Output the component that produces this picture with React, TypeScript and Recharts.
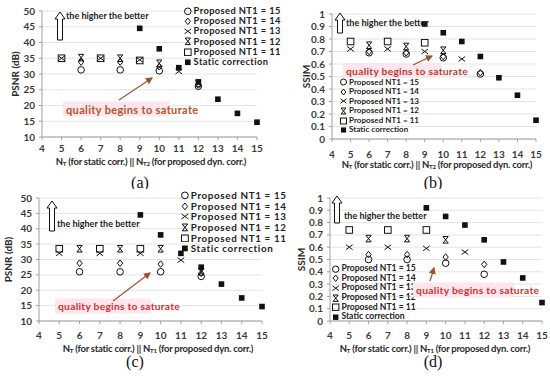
import React from 'react'
import { ScatterChart, Scatter, XAxis, YAxis, CartesianGrid } from 'recharts'

// x positions (N_T / N_T1 / N_T2)
const nValues = [5, 6, 7, 8, 9, 10, 11, 12, 13, 14, 15]
const xTicks = [4, 5, 6, 7, 8, 9, 10, 11, 12, 13, 14, 15]
const psnrTicks = [10, 15, 20, 25, 30, 35, 40, 45, 50]
const ssimTicks = [0, 0.1, 0.2, 0.3, 0.4, 0.5, 0.6, 0.7, 0.8, 0.9, 1]
const legendLabels = [
  'Proposed NT1 = 15',
  'Proposed NT1 = 14',
  'Proposed NT1 = 13',
  'Proposed NT1 = 12',
  'Proposed NT1 = 11',
  'Static correction',
]

// (a) PSNR vs N_T2
const psnrA15 = [null, 31.3, null, 31.3, null, 31, null, 26.1, null, null, null]
const psnrA14 = [null, 33.8, null, 33.8, null, 32.3, null, 26.5, null, null, null]
const psnrA13 = [35, null, 35, null, 34.5, null, 30.8, null, null, null, null]
const psnrA12 = [null, 35.2, null, 35, null, 33.4, null, 27, null, null, null]
const psnrA11 = [35, null, 35, null, 34.3, null, null, null, null, null, null]
const psnrAStatic = [null, null, null, null, 44.5, 38, 32, 27.5, 22, 17.5, 14.7]

// (b) SSIM vs N_T2
const ssimB15 = [null, 0.69, null, 0.68, null, 0.65, null, 0.52, null, null, null]
const ssimB14 = [null, 0.7, null, 0.69, null, 0.66, null, 0.53, null, null, null]
const ssimB13 = [0.72, null, 0.72, null, 0.7, null, 0.64, null, null, null, null]
const ssimB12 = [null, 0.75, null, 0.74, null, 0.71, null, null, null, null, null]
const ssimB11 = [0.78, null, 0.78, null, 0.77, null, null, null, null, null, null]
const ssimBStatic = [null, null, null, null, 0.92, 0.85, 0.78, 0.66, 0.49, 0.35, 0.15]

// (c) PSNR vs N_T1
const psnrC15 = [null, 26, null, 26, null, 26, null, 24.5, null, null, null]
const psnrC14 = [null, 28.8, null, 28.8, null, 28.5, null, 25.5, null, null, null]
const psnrC13 = [32, null, 32, null, 32, null, 29.8, null, null, null, null]
const psnrC12 = [null, 33.5, null, 33.5, null, 33.5, null, 26, null, null, null]
const psnrC11 = [33.5, null, 33.5, null, 33.5, null, null, null, null, null, null]
const psnrCStatic = [null, null, null, null, 44.5, 38, 32, 27.5, 22, 17.5, 14.7]

// (d) SSIM vs N_T1
const ssimD15 = [null, 0.5, null, 0.5, null, 0.47, null, 0.38, null, null, null]
const ssimD14 = [null, 0.54, null, 0.54, null, 0.52, null, 0.46, null, null, null]
const ssimD13 = [0.6, null, 0.6, null, 0.59, null, 0.56, null, null, null, null]
const ssimD12 = [null, 0.67, null, 0.67, null, 0.66, null, null, null, null, null]
const ssimD11 = [0.74, null, 0.74, null, 0.74, null, null, null, null, null, null]
const ssimDStatic = [null, null, null, null, 0.92, 0.85, 0.78, 0.66, 0.48, 0.35, 0.15]

type Kind = 'circle' | 'diamond' | 'cross' | 'hourglass' | 'square' | 'filled'
const kinds: Kind[] = ['circle', 'diamond', 'cross', 'hourglass', 'square', 'filled']

const FONT = 'Lato, "Open Sans", sans-serif'
const INK = '#111'

const toPoints = (ys: (number | null)[]) =>
  nValues.map((x, i) => ({ x, y: ys[i] })).filter((p) => p.y !== null)

function Marker({ kind, cx, cy, s = 3.3 }: { kind: Kind; cx: number; cy: number; s?: number }) {
  const st = { fill: 'none', stroke: INK, strokeWidth: 1 }
  switch (kind) {
    case 'circle':
      return <circle cx={cx} cy={cy} r={s} {...st} />
    case 'diamond':
      return (
        <polygon
          points={`${cx},${cy - s} ${cx + s * 0.8},${cy} ${cx},${cy + s} ${cx - s * 0.8},${cy}`}
          {...st}
        />
      )
    case 'cross':
      return (
        <path
          d={`M${cx - s},${cy - s * 0.75}L${cx + s},${cy + s * 0.75}M${cx + s},${cy - s * 0.75}L${cx - s},${cy + s * 0.75}`}
          {...st}
        />
      )
    case 'hourglass':
      return (
        <path
          d={`M${cx - s * 0.8},${cy - s}L${cx + s * 0.8},${cy + s}M${cx + s * 0.8},${cy - s}L${cx - s * 0.8},${cy + s}M${cx - s * 0.8},${cy - s}H${cx + s * 0.8}M${cx - s * 0.8},${cy + s}H${cx + s * 0.8}`}
          {...st}
        />
      )
    case 'square':
      return <rect x={cx - s} y={cy - s} width={s * 2} height={s * 2} {...st} />
    default:
      return <rect x={cx - s * 0.85} y={cy - s * 0.85} width={s * 1.7} height={s * 1.7} fill={INK} />
  }
}

type PanelProps = {
  left: number
  top: number
  plot: { l: number; r: number; t: number; b: number }
  yDomain: [number, number]
  yTicks: number[]
  yTitle: string
  yTitleX: number
  series: (number | null)[][]
  legend: { x: number; y: number; step: number; fs: number; ls: number; ms: number }
  sub: string
  xTitleX: number
  tickDy: number
  titleDy: number
  better: { x: number; t: number; b: number; tx: number; ty: number }
  sat: {
    x1: number
    y1: number
    x2: number
    y2: number
    tx: number
    ty: number
    w: number
    fs: number
    ls: number
    color: string
  }
  caption: string
  captionX: number
  captionY: number
}

function Panel(p: PanelProps) {
  const H = 189
  const fmt = (v: number) => String(Math.round(v * 10) / 10)
  const a = p.better
  const s = p.sat
  const lg = p.legend
  const tickStyle = { fontSize: 10, fontWeight: 700, fill: '#3a3a3a', fontFamily: FONT }
  return (
    <div style={{ position: 'absolute', left: p.left, top: p.top, width: 275, height: H }}>
      <ScatterChart
        width={275}
        height={H}
        margin={{ top: p.plot.t, right: 275 - p.plot.r, left: 0, bottom: 0 }}
      >
        <CartesianGrid vertical={false} stroke="#e4e4e4" />
        <XAxis
          type="number"
          dataKey="x"
          domain={[4, 15]}
          ticks={xTicks}
          interval={0}
          height={H - p.plot.b}
          axisLine={{ stroke: '#a0a0a0' }}
          tickLine={{ stroke: '#a0a0a0' }}
          tickSize={3}
          tickMargin={p.tickDy}
          tick={tickStyle}
        />
        <YAxis
          type="number"
          dataKey="y"
          domain={p.yDomain}
          ticks={p.yTicks}
          interval={0}
          width={p.plot.l}
          tickFormatter={fmt}
          axisLine={{ stroke: '#a0a0a0' }}
          tickLine={{ stroke: '#a0a0a0' }}
          tickSize={3}
          tickMargin={4}
          tick={tickStyle}
        />
        {p.series.map((ys, i) => (
          <Scatter
            key={legendLabels[i]}
            name={legendLabels[i]}
            data={toPoints(ys)}
            isAnimationActive={false}
            shape={(props: any) => <Marker kind={kinds[i]} cx={props.cx} cy={props.cy} />}
          />
        ))}
      </ScatterChart>
      <div
        style={{
          position: 'absolute',
          left: lg.x,
          top: lg.y,
          fontFamily: FONT,
          fontSize: lg.fs,
          letterSpacing: lg.ls,
          fontWeight: 700,
          color: '#222',
        }}
      >
        {legendLabels.map((lab, i) => (
          <div key={lab} style={{ height: lg.step, display: 'flex', alignItems: 'center' }}>
            <svg width={lg.ms * 2 + 3} height={lg.ms * 2 + 2} style={{ marginRight: 1, flex: 'none' }}>
              <Marker kind={kinds[i]} cx={lg.ms + 1.5} cy={lg.ms + 1} s={lg.ms} />
            </svg>
            <span style={{ whiteSpace: 'nowrap', lineHeight: `${lg.step}px` }}>{lab}</span>
          </div>
        ))}
      </div>
      <svg
        width={275}
        height={H}
        style={{ position: 'absolute', left: 0, top: 0, pointerEvents: 'none' }}
        fontFamily={FONT}
      >
        <defs>
          <marker id={`ah${p.caption}`} markerWidth="6" markerHeight="6" refX="5" refY="3" orient="auto">
            <path d="M0,0 L6,3 L0,6 z" fill="#a0522d" />
          </marker>
        </defs>
        <polygon
          points={`${a.x},${a.t} ${a.x + 5},${a.t + 7} ${a.x + 2.5},${a.t + 7} ${a.x + 2.5},${a.b} ${a.x - 2.5},${a.b} ${a.x - 2.5},${a.t + 7} ${a.x - 5},${a.t + 7}`}
          fill="#fff"
          stroke={INK}
          strokeWidth={1}
        />
        <text x={a.tx} y={a.ty} fontSize={9} fontWeight={700} fill="#222" dominantBaseline="central">
          the higher the better
        </text>
        <rect x={s.tx - 3} y={s.ty - 7.5} width={s.w + 6} height={15} fill="#fde6ee" />
        <text
          x={s.tx}
          y={s.ty}
          fontSize={s.fs}
          letterSpacing={s.ls}
          fontWeight={700}
          fill={s.color}
          dominantBaseline="central"
        >
          quality begins to saturate
        </text>
        <line
          x1={s.x1}
          y1={s.y1}
          x2={s.x2}
          y2={s.y2}
          stroke="#a0522d"
          strokeWidth={1.2}
          markerEnd={`url(#ah${p.caption})`}
        />
        <text
          x={p.xTitleX}
          y={p.plot.b + p.titleDy}
          textAnchor="middle"
          fontSize={9.5}
          letterSpacing={-0.25}
          fontWeight={700}
          fill="#2a2a2a"
          dominantBaseline="central"
        >
          N<tspan fontSize={6} dy={2}>T</tspan>
          <tspan dy={-2}> (for static corr.) || N</tspan>
          <tspan fontSize={6} dy={2}>{p.sub}</tspan>
          <tspan dy={-2}> (for proposed dyn. corr.)</tspan>
        </text>
        <text
          x={p.yTitleX}
          y={(p.plot.t + p.plot.b) / 2}
          textAnchor="middle"
          fontSize={10}
          fontWeight={700}
          fill="#2a2a2a"
          dominantBaseline="central"
          transform={`rotate(-90 ${p.yTitleX} ${(p.plot.t + p.plot.b) / 2})`}
        >
          {p.yTitle}
        </text>
        <text
          x={p.captionX}
          y={p.captionY}
          textAnchor="middle"
          fontSize={16}
          fontFamily='"Liberation Serif", serif'
          fill="#111"
          dominantBaseline="central"
        >
          ({p.caption})
        </text>
      </svg>
    </div>
  )
}

export default function App() {
  return (
    <div
      style={{
        position: 'absolute',
        left: 0,
        top: 0,
        width: 550,
        height: 377,
        background: '#fff',
        overflow: 'hidden',
      }}
    >
      <Panel
        left={0}
        top={0}
        plot={{ l: 42, r: 257, t: 11, b: 137 }}
        yDomain={[10, 50]}
        yTicks={psnrTicks}
        yTitle="PSNR (dB)"
        yTitleX={15}
        series={[psnrA15, psnrA14, psnrA13, psnrA12, psnrA11, psnrAStatic]}
        legend={{ x: 183, y: 6, step: 10.2, fs: 9.3, ls: 0.4, ms: 3.3 }}
        sub="T2"
        xTitleX={151}
        tickDy={5}
        titleDy={24}
        better={{ x: 60, t: 12, b: 40, tx: 66, ty: 15 }}
        sat={{ x1: 119, y1: 100, x2: 152, y2: 78, tx: 66, ty: 109, w: 101, fs: 11, ls: 0.35, color: '#b5542a' }}
        caption="a"
        captionX={140}
        captionY={182}
      />
      <Panel
        left={275}
        top={0}
        plot={{ l: 57, r: 261, t: 14, b: 139 }}
        yDomain={[0, 1]}
        yTicks={ssimTicks}
        yTitle="SSIM"
        yTitleX={31}
        series={[ssimB15, ssimB14, ssimB13, ssimB12, ssimB11, ssimBStatic]}
        legend={{ x: 64, y: 77.5, step: 9.6, fs: 8, ls: 0.05, ms: 3 }}
        sub="T2"
        xTitleX={162}
        tickDy={9}
        titleDy={25}
        better={{ x: 65, t: 13, b: 33, tx: 71, ty: 22 }}
        sat={{ x1: 138, y1: 65, x2: 157, y2: 56, tx: 71, ty: 70.5, w: 92, fs: 10.3, ls: 0.25, color: '#c0392b' }}
        caption="b"
        captionX={158}
        captionY={182}
      />
      <Panel
        left={0}
        top={188}
        plot={{ l: 39, r: 262, t: 10, b: 133 }}
        yDomain={[10, 50]}
        yTicks={psnrTicks}
        yTitle="PSNR (dB)"
        yTitleX={8}
        series={[psnrC15, psnrC14, psnrC13, psnrC12, psnrC11, psnrCStatic]}
        legend={{ x: 180, y: 2, step: 10.7, fs: 9.8, ls: 0.65, ms: 3.4 }}
        sub="T1"
        xTitleX={158}
        tickDy={8}
        titleDy={27}
        better={{ x: 52, t: 13, b: 43, tx: 57, ty: 35 }}
        sat={{ x1: 113, y1: 113, x2: 150, y2: 85, tx: 58, ty: 118, w: 90, fs: 10.3, ls: 0.25, color: '#d03030' }}
        caption="c"
        captionX={135}
        captionY={173}
      />
      <Panel
        left={275}
        top={188}
        plot={{ l: 55, r: 267, t: 10, b: 133 }}
        yDomain={[0, 1]}
        yTicks={ssimTicks}
        yTitle="SSIM"
        yTitleX={26}
        series={[ssimD15, ssimD14, ssimD13, ssimD12, ssimD11, ssimDStatic]}
        legend={{ x: 56, y: 76, step: 9.7, fs: 8.6, ls: 0, ms: 3.2 }}
        sub="T1"
        xTitleX={160}
        tickDy={8}
        titleDy={27}
        better={{ x: 62, t: 8, b: 35, tx: 69, ty: 27 }}
        sat={{ x1: 155, y1: 93, x2: 159, y2: 80, tx: 141, ty: 102, w: 95, fs: 10.3, ls: 0.3, color: '#d03030' }}
        caption="d"
        captionX={158}
        captionY={173}
      />
    </div>
  )
}
